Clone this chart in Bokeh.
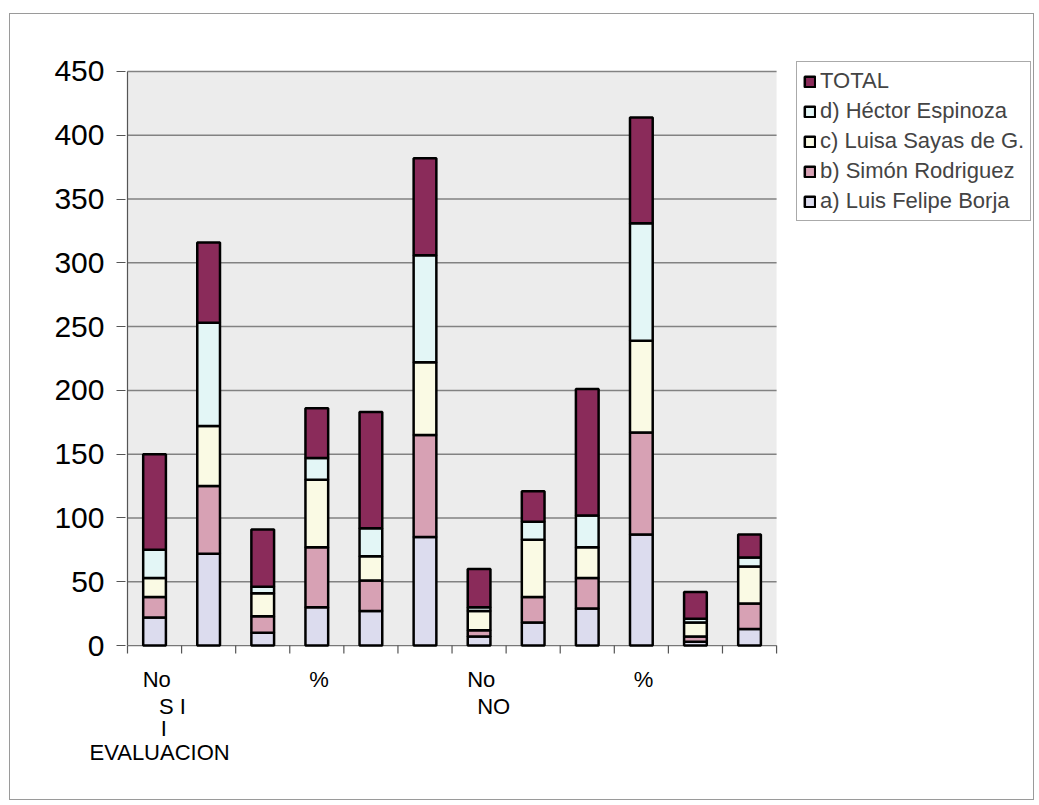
from bokeh.plotting import figure
from bokeh.models import ColumnDataSource, Legend, LegendItem, FixedTicker, Range1d, Title
from bokeh.core.properties import value
from bokeh.embed import file_html
from bokeh.resources import INLINE

# ---- data ----
bar_labels = ["No", "", "", "%", "", "", "No", "", "", "%", "", ""]
group_labels = ["S I", "NO"]
mid_label = "I"
top_label = "EVALUACION"
a_borja = [22, 72, 10, 30, 27, 85, 7, 18, 29, 87, 3, 13]
b_simon = [16, 53, 13, 47, 24, 80, 5, 20, 24, 80, 4, 20]
c_luisa = [15, 47, 18, 53, 19, 57, 15, 45, 24, 72, 11, 29]
d_hector = [22, 81, 5, 17, 22, 84, 3, 14, 25, 92, 3, 7]
total = [75, 63, 45, 39, 91, 76, 30, 24, 99, 83, 21, 18]
series_names = ["a) Luis Felipe Borja", "b) Simón Rodriguez", "c) Luisa Sayas de G.",
                "d) Héctor Espinoza", "TOTAL"]
colors = ["#dcdcee", "#d7a1b4", "#fafae4", "#e3f6f6", "#8a2b5a"]
y_ticks = [0, 50, 100, 150, 200, 250, 300, 350, 400, 450]

FONT = "Liberation Sans"
n = len(bar_labels)
ymax = y_ticks[-1]

src = ColumnDataSource(dict(
    x=[i + 0.5 for i in range(n)],
    a=a_borja, b=b_simon, c=c_luisa, d=d_hector, t=total,
))

# scale: 54.08 px per category, 1.2756 px per unit
p = figure(width=1025, height=787, output_backend="svg", toolbar_location=None,
           x_range=Range1d(-0.037, 16.75), y_range=Range1d(-72.1, 459.4),
           min_border_left=115, min_border_right=2, min_border_top=45,
           min_border_bottom=64)
p.styles = {"border": "1px solid #9a9a9a", "margin-left": "9px", "margin-top": "13px"}
p.background_fill_color = "white"
p.border_fill_color = "white"
p.outline_line_color = None
p.xaxis.visible = False
p.xgrid.visible = False
p.ygrid.visible = False

# plot area background and gridlines
p.quad(left=0, right=n, bottom=0, top=ymax, fill_color="#ececec", line_color=None)
p.segment(x0=[0] * (len(y_ticks) - 1), x1=[n] * (len(y_ticks) - 1),
          y0=y_ticks[1:], y1=y_ticks[1:], line_color="#828282", line_width=1.5)
# y axis line and x axis line + category ticks
p.segment(x0=[0], x1=[0], y0=[0], y1=[ymax], line_color="#555555", line_width=1.2)
p.segment(x0=[0], x1=[n], y0=[0], y1=[0], line_color="#777777", line_width=1.2)
p.segment(x0=list(range(n + 1)), x1=list(range(n + 1)), y0=[0] * (n + 1),
          y1=[-6.3] * (n + 1), line_color="#555555", line_width=1.2)

rends = p.vbar_stack(["a", "b", "c", "d", "t"], x="x", width=0.42, source=src,
                     fill_color=colors, line_color="black", line_width=2.5)

# y axis
p.yaxis.ticker = FixedTicker(ticks=y_ticks)
p.yaxis.major_label_text_font = FONT
p.yaxis.major_label_text_font_size = "30px"
p.yaxis.major_label_text_color = "black"
p.yaxis.major_tick_out = 9
p.yaxis.major_tick_in = 0
p.yaxis.minor_tick_out = 0
p.yaxis.minor_tick_in = 0
p.yaxis.major_label_standoff = 12
p.yaxis.axis_line_color = None
p.yaxis.major_tick_line_color = "#555555"

# category labels under the axis
lx = [i + 0.54 for i, lab in enumerate(bar_labels) if lab]
lt = [lab for lab in bar_labels if lab]
txt_kw = dict(text_align="center", text_baseline="middle", text_font=value(FONT),
              text_font_size="22px", text_color="black")
p.text(x=lx, y=[-27] * len(lt), text=lt, **txt_kw)
p.text(x=[0.83, 6.77], y=[-48, -48], text=group_labels, **txt_kw)
p.text(x=[0.67], y=[-65.0], text=[mid_label], **txt_kw)
p.add_layout(Title(text=top_label, align="left", offset=-36, text_font=FONT,
                   text_font_size="22px", text_font_style="normal", text_color="black",
                   standoff=0), "below")

# legend (reverse order like the reference)
items = [LegendItem(label=series_names[k], renderers=[rends[k]]) for k in [4, 3, 2, 1, 0]]
legend = Legend(items=items, location=(671, 516), orientation="vertical",
                label_text_font=FONT, label_text_font_size="22px",
                glyph_width=13, glyph_height=13, label_height=25, spacing=4,
                padding=6, margin=0, border_line_color="#555555", border_line_width=1,
                background_fill_color="white", label_standoff=4)
p.add_layout(legend)

open("out.html", "w").write(file_html(p, INLINE))
